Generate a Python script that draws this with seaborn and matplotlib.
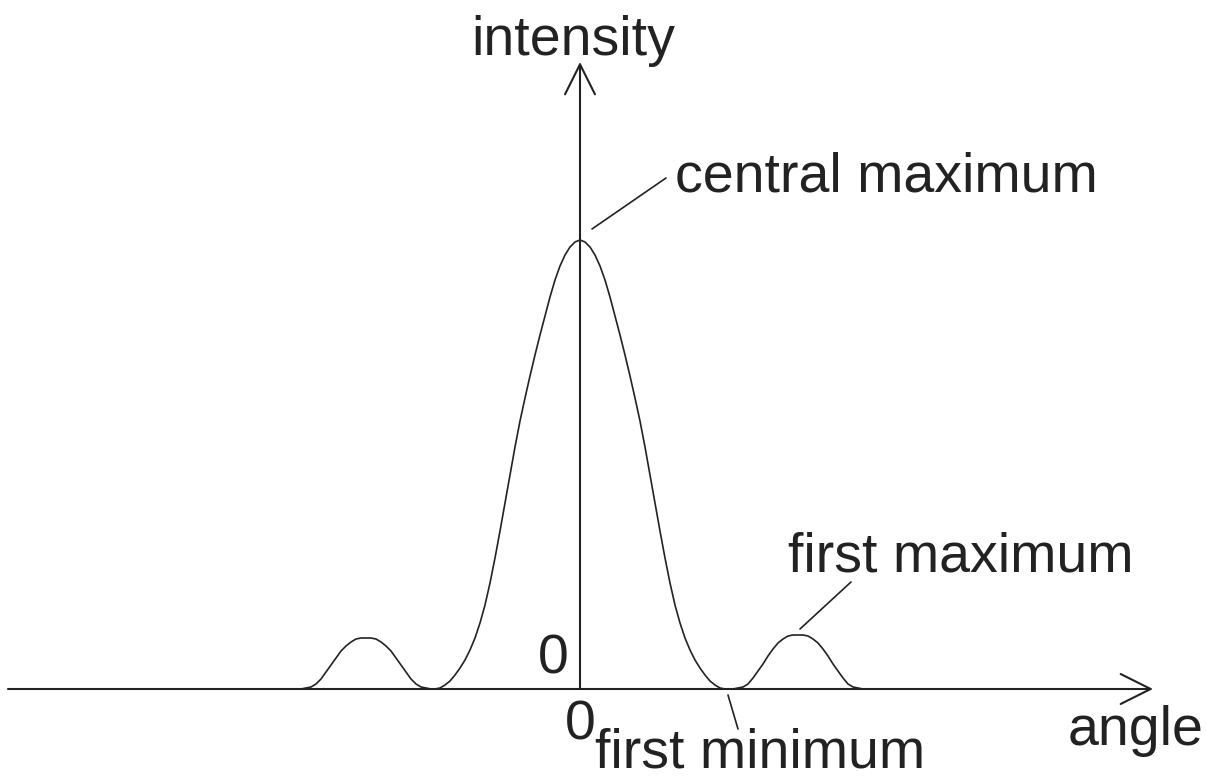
import numpy as np
import pandas as pd
import matplotlib
matplotlib.use("Agg")
import matplotlib.pyplot as plt
import seaborn as sns

# curve: angle offset from the vertical axis, intensity above the baseline
left_lobe_angle = [-279, -274, -269, -264, -259, -254, -249, -244, -239, -234, -229, -224, -219,
                   -214, -209, -204, -199, -194, -189, -184, -179, -174, -169, -164, -159, -154, -149]
left_lobe_int = [0, 1, 2, 5, 10, 17, 24, 31, 38, 43, 47, 50, 51,
                 51, 51, 50, 47, 43, 38, 31, 24, 17, 10, 5, 2, 1, 0]

central_angle = [-145, -140, -135, -130, -125, -120, -115, -110, -105, -100, -95, -90, -85, -80, -75,
                 -70, -65, -60, -55, -50, -45, -40, -35, -30, -25, -20, -15, -10, -5,
                 0,
                 5, 10, 15, 20, 25, 30, 35, 40, 45, 50, 55, 60, 65, 70, 75,
                 80, 85, 90, 95, 100, 105, 110, 115, 120, 125, 130, 135, 140, 145]
central_int = [0, 1, 4, 8, 14, 21, 29, 39, 51, 66, 84, 106, 131, 158, 186,
               214, 242, 268, 291, 313, 334, 354, 373, 392, 409, 423, 434, 442, 447,
               449,
               447, 442, 434, 423, 409, 392, 373, 354, 334, 313, 291, 268, 242, 214, 186,
               158, 131, 106, 84, 66, 51, 39, 29, 21, 14, 8, 4, 1, 0]

right_lobe_angle = [153, 158, 163, 168, 173, 178, 183, 188, 193, 198, 203, 208, 213,
                    218, 223, 228, 233, 238, 243, 248, 253, 258, 263, 268, 273, 278, 283]
right_lobe_int = [0, 1, 2, 5, 11, 18, 25, 33, 40, 46, 50, 53, 54,
                  54, 54, 53, 50, 46, 40, 33, 25, 18, 11, 5, 2, 1, 0]

labels = ["intensity", "central maximum", "first maximum", "0", "0", "first minimum", "angle"]

curve = pd.DataFrame({
    "angle": left_lobe_angle + central_angle + right_lobe_angle,
    "intensity": left_lobe_int + central_int + right_lobe_int,
})

sns.set_theme(style="white")
plt.rcParams["font.family"] = ["Liberation Sans", "DejaVu Sans"]

ink = "#222222"
fig = plt.figure(figsize=(12.07, 7.80), dpi=100)
ax = fig.add_axes([0, 0, 1, 1])
ax.set_xlim(-580, 627)
ax.set_ylim(-91, 689)
ax.axis("off")

sns.lineplot(data=curve, x="angle", y="intensity", ax=ax, color=ink, linewidth=1.2, sort=False)

# axes with open arrow heads
flecha = dict(arrowstyle="->,head_length=2,head_width=1", mutation_scale=10.8,
              color=ink, lw=1.5, shrinkA=0, shrinkB=0)
ax.annotate("", xy=(573, 0), xytext=(-572, 0), arrowprops=flecha)
ax.annotate("", xy=(0, 627), xytext=(0, 0), arrowprops=flecha)

# leader lines
ax.plot([12, 86], [460, 511], color=ink, lw=1.2)
ax.plot([220, 271], [60, 107], color=ink, lw=1.2)
ax.plot([148, 158], [-6, -40], color=ink, lw=1.2)

fs = 40
ax.text(-7, 634, labels[0], fontsize=fs, ha="center", va="baseline", color=ink)
ax.text(95, 497, labels[1], fontsize=fs, ha="left", va="baseline", color=ink)
ax.text(208, 117, labels[2], fontsize=fs, ha="left", va="baseline", color=ink)
ax.text(-11, 15, labels[3], fontsize=fs, ha="right", va="baseline", color=ink)
ax.text(0, -51, labels[4], fontsize=fs, ha="center", va="baseline", color=ink)
ax.text(15, -79, labels[5], fontsize=fs, ha="left", va="baseline", color=ink)
ax.text(488, -56, labels[6], fontsize=fs, ha="left", va="baseline", color=ink)

fig.savefig("out.png", dpi=100, facecolor="white")
